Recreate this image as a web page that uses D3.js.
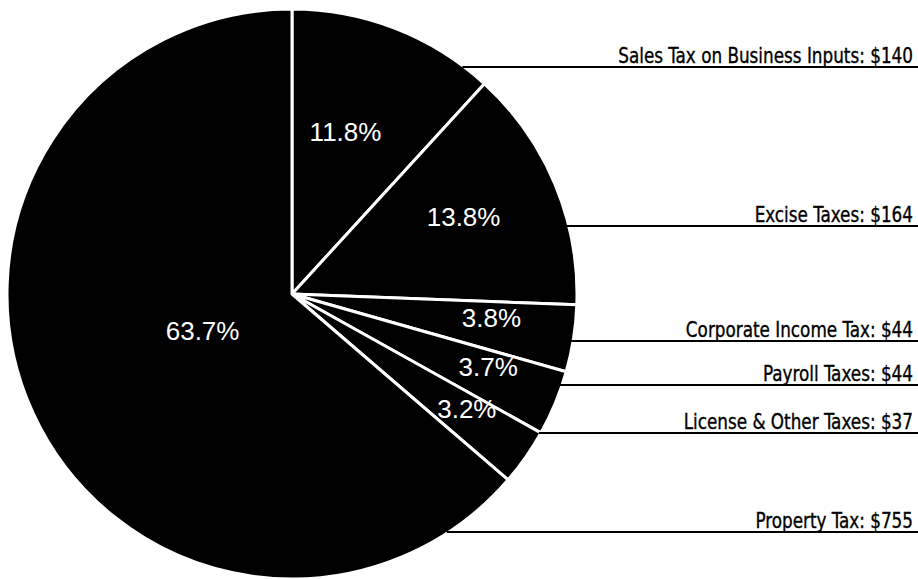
<!DOCTYPE html>
<html>
<head>
<meta charset="utf-8">
<script src="https://cdn.jsdelivr.net/npm/d3@7"></script>
<style>
  html, body { margin: 0; padding: 0; background: #fff; }
  svg { display: block; }
  .pct { font-family: "Liberation Sans", Arial, Helvetica, sans-serif; fill: #fff; }
  .name { font-family: "DejaVu Sans Condensed", "DejaVu Sans", sans-serif; font-stretch: condensed; fill: #000; stroke: #000; stroke-width: 0.35; }
</style>
</head>
<body>
<svg id="chart" width="918" height="579"></svg>
<script>
// Business tax categories, clockwise from 12 o'clock
const categories = [
  "Sales Tax on Business Inputs",
  "Excise Taxes",
  "Corporate Income Tax",
  "Payroll Taxes",
  "License & Other Taxes",
  "Property Tax"
];
// Share of total (percent) — sets each slice's size
const shares = [11.8, 13.8, 3.8, 3.7, 3.2, 63.7];
// Dollar amounts shown in the callouts
const amounts = [140, 164, 44, 44, 37, 755];

// Layout
const W = 918, H = 579;
const cx = 292, cy = 294, R = 285;
// Callout rule heights (one per category)
const calloutY = [67, 226, 341, 385, 433, 532];
// Percent label placement: radius fraction and angular nudge (degrees)
const pctRadius = [0.60, 0.66, 0.705, 0.735, 0.735, 0.34];
const pctNudge = [-3, -1.5, -2, -2, -1.5, 2];
// Horizontal squeeze for the condensed callout text
const nameSqueeze = 0.85;

const svg = d3.select("#chart");

const pie = d3.pie().sort(null).value(d => d)(shares);
const arc = d3.arc().innerRadius(0).outerRadius(R);

const g = svg.append("g").attr("transform", `translate(${cx},${cy})`);

g.selectAll("path.slice")
  .data(pie)
  .join("path")
  .attr("class", "slice")
  .attr("d", arc)
  .attr("fill", "#000")
  .attr("stroke", "#fff")
  .attr("stroke-width", 3)
  .attr("stroke-linejoin", "round");

// Percent labels inside the slices
g.selectAll("text.pct")
  .data(pie)
  .join("text")
  .attr("class", "pct")
  .attr("text-anchor", "middle")
  .attr("dominant-baseline", "central")
  .attr("font-size", 26)
  .attr("x", (d, i) => {
    const a = (d.startAngle + d.endAngle) / 2 + pctNudge[i] * Math.PI / 180;
    return Math.sin(a) * R * pctRadius[i];
  })
  .attr("y", (d, i) => {
    const a = (d.startAngle + d.endAngle) / 2 + pctNudge[i] * Math.PI / 180;
    return -Math.cos(a) * R * pctRadius[i];
  })
  .text(d => d.data.toFixed(1) + "%");

// Callouts: a rule from the pie's rim to the right edge, name above it
const callouts = svg.append("g");
categories.forEach((name, i) => {
  const y = calloutY[i];
  const dy = y - cy;
  const x0 = cx + Math.sqrt(Math.max(0, R * R - dy * dy)) - 2;
  callouts.append("line")
    .attr("x1", x0).attr("x2", W)
    .attr("y1", y).attr("y2", y)
    .attr("stroke", "#000")
    .attr("stroke-width", 2);
  callouts.append("text")
    .attr("class", "name")
    .attr("transform", `translate(913,${y - 4}) scale(${nameSqueeze},1)`)
    .attr("text-anchor", "end")
    .attr("font-size", 22)
    .text(`${name}: $${amounts[i]}`);
});
</script>
</body>
</html>
